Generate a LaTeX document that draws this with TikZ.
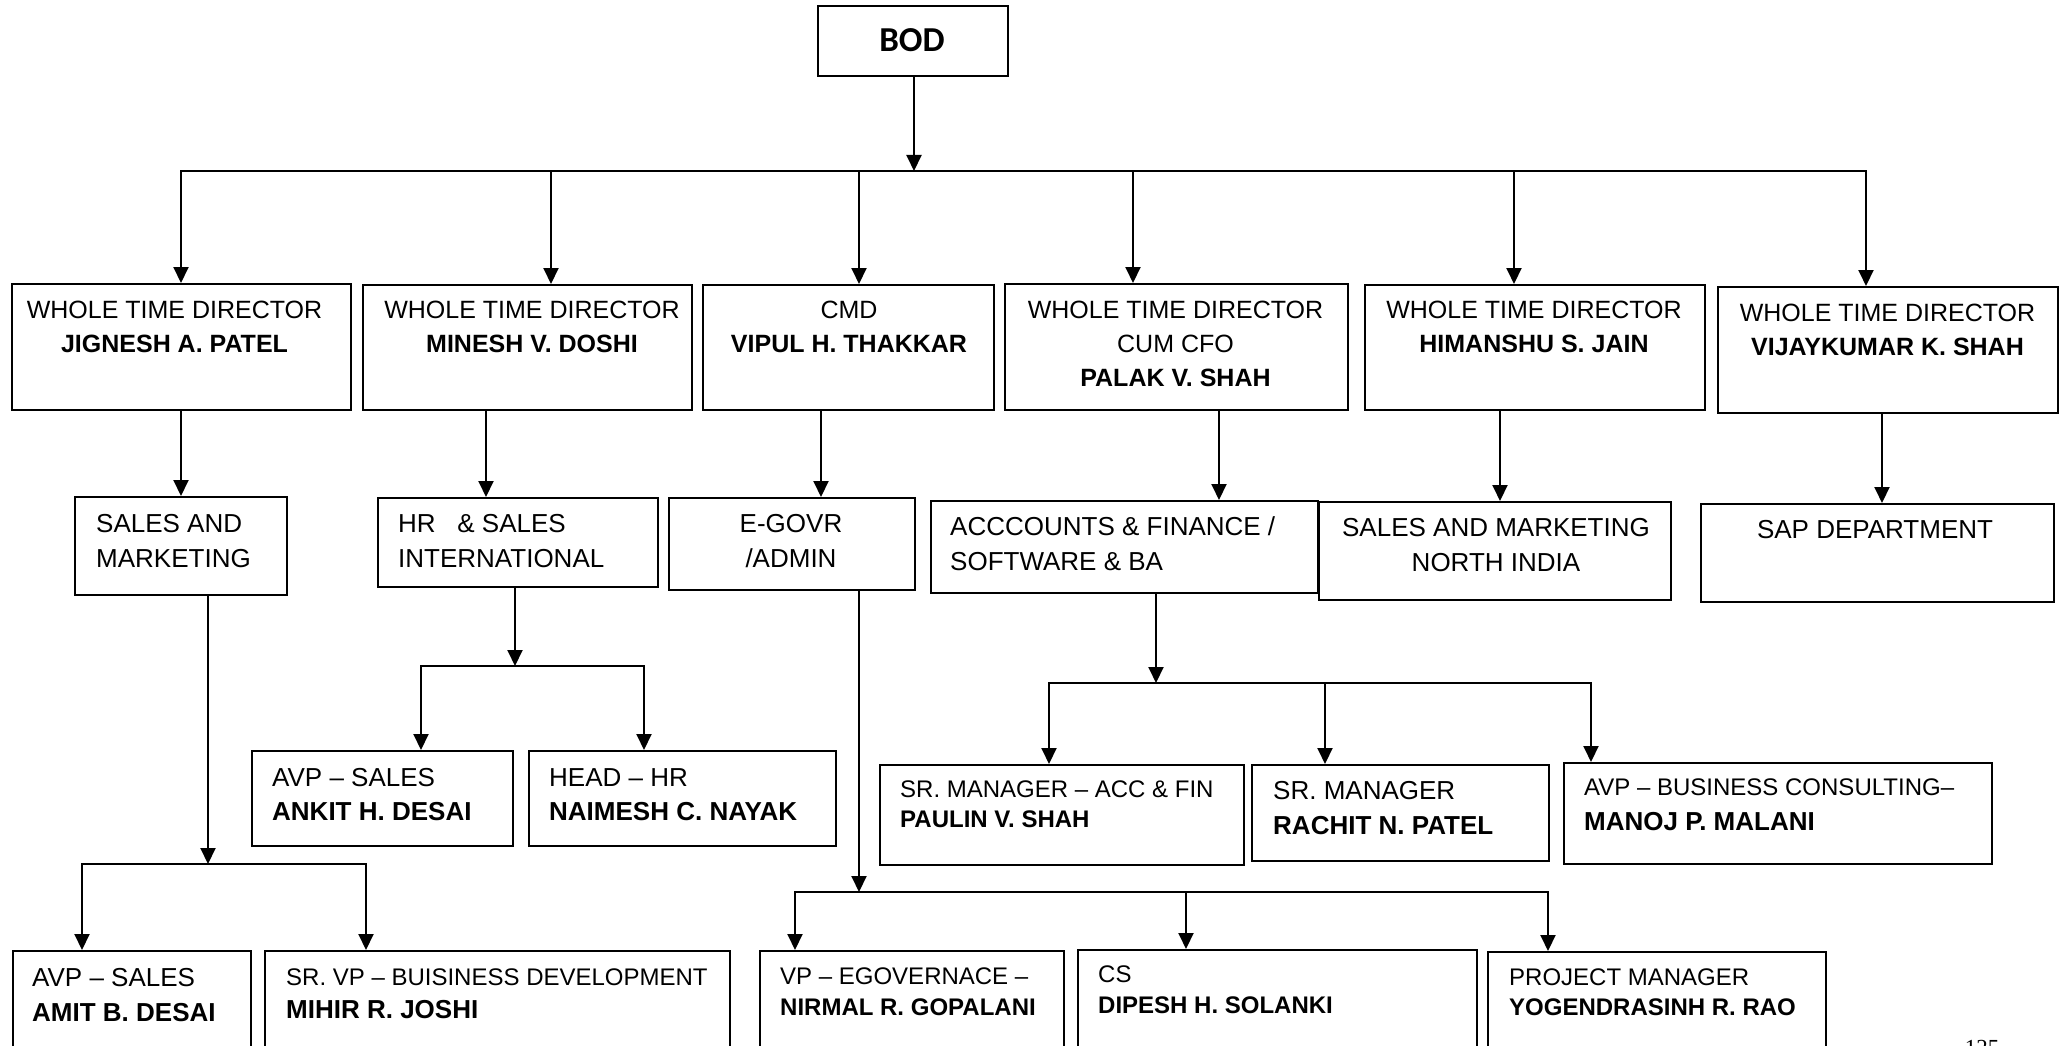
\documentclass[tikz,border=0pt]{standalone}
\usepackage{fontspec}
\setmainfont{Liberation Sans}
\newfontfamily\bodfont{Carlito}
\newfontfamily\pgnfont{Liberation Serif}
\usetikzlibrary{arrows.meta}

\begin{document}
\begin{tikzpicture}[x=1pt,y=-1pt,
  box/.style={draw, line width=2pt, anchor=north west, inner sep=0pt},
  ln/.style={line width=2pt, line cap=rect},
  arr/.style={line width=2pt, -{Triangle[length=16pt,width=15pt]}},
  tc/.style={inner sep=0pt, anchor=base},
  tl/.style={inner sep=0pt, anchor=base west},
  r24/.style={font=\fontsize{24pt}{28pt}\selectfont},
  b24/.style={font=\fontsize{24pt}{28pt}\selectfont\bfseries},
  r25/.style={font=\fontsize{25pt}{30pt}\selectfont},
  b25/.style={font=\fontsize{25pt}{30pt}\selectfont\bfseries},
  r26/.style={font=\fontsize{26pt}{31pt}\selectfont},
  b26/.style={font=\fontsize{26pt}{31pt}\selectfont\bfseries}
]
\fill[white] (0,0) rectangle (2065,1046);
\useasboundingbox (0,0) rectangle (2065,1046);

% ---------- boxes ----------
\node[box, minimum width=190pt, minimum height=70pt] (bod) at (817,5) {};
\node[box, minimum width=339pt, minimum height=126pt] (b1) at (11,283) {};
\node[box, minimum width=329pt, minimum height=125pt] (b2) at (362,284) {};
\node[box, minimum width=291pt, minimum height=125pt] (b3) at (702,284) {};
\node[box, minimum width=343pt, minimum height=126pt] (b4) at (1004,283) {};
\node[box, minimum width=340pt, minimum height=125pt] (b5) at (1364,284) {};
\node[box, minimum width=340pt, minimum height=126pt] (b6) at (1717,286) {};

\node[box, minimum width=212pt, minimum height=98pt] (s1) at (74,496) {};
\node[box, minimum width=280pt, minimum height=89pt] (s2) at (377,497) {};
\node[box, minimum width=246pt, minimum height=92pt] (s3) at (668,497) {};
\node[box, minimum width=387pt, minimum height=92pt] (s4) at (930,500) {};
\node[box, minimum width=352pt, minimum height=98pt] (s5) at (1318,501) {};
\node[box, minimum width=353pt, minimum height=98pt] (s6) at (1700,503) {};

\node[box, minimum width=261pt, minimum height=95pt] (c1) at (251,750) {};
\node[box, minimum width=307pt, minimum height=95pt] (c2) at (528,750) {};
\node[box, minimum width=364pt, minimum height=100pt] (c3) at (879,764) {};
\node[box, minimum width=297pt, minimum height=96pt] (c4) at (1251,764) {};
\node[box, minimum width=428pt, minimum height=101pt] (c5) at (1563,762) {};

\node[box, minimum width=238pt, minimum height=120pt] (d1) at (12,950) {};
\node[box, minimum width=465pt, minimum height=120pt] (d2) at (264,950) {};
\node[box, minimum width=304pt, minimum height=120pt] (d3) at (759,950) {};
\node[box, minimum width=399pt, minimum height=121pt] (d4) at (1077,949) {};
\node[box, minimum width=338pt, minimum height=119pt] (d5) at (1487,951) {};

% ---------- texts ----------
\node[tc, font=\fontsize{35pt}{40pt}\selectfont\bodfont\bfseries] (tbod) at (912,52) {BOD};

\node[tc, r25] (t1a) at (174.5,318) {WHOLE TIME DIRECTOR};
\node[tc, b25] (t1b) at (174.5,352) {JIGNESH A. PATEL};
\node[tc, r25] (t2a) at (532,318) {WHOLE TIME DIRECTOR};
\node[tc, b25] (t2b) at (532,352) {MINESH V. DOSHI};
\node[tc, r25] (t3a) at (849,318) {CMD};
\node[tc, b25] (t3b) at (849,352) {VIPUL H. THAKKAR};
\node[tc, r25] (t4a) at (1175.5,318) {WHOLE TIME DIRECTOR};
\node[tc, r25] (t4b) at (1175.5,352) {CUM CFO};
\node[tc, b25] (t4c) at (1175.5,386) {PALAK V. SHAH};
\node[tc, r25] (t5a) at (1534,318) {WHOLE TIME DIRECTOR};
\node[tc, b25] (t5b) at (1534,352) {HIMANSHU S. JAIN};
\node[tc, r25] (t6a) at (1887.5,321) {WHOLE TIME DIRECTOR};
\node[tc, b25] (t6b) at (1887.5,355) {VIJAYKUMAR K. SHAH};

\node[tl, r26] (u1a) at (96,532) {SALES AND};
\node[tl, r26] (u1b) at (96,567) {MARKETING};
\node[tl, r26] (u2a) at (398,532) {HR\ \ \ \& SALES};
\node[tl, r26] (u2b) at (398,567) {INTERNATIONAL};
\node[tc, r26] (u3a) at (791,532) {E-GOVR};
\node[tc, r26] (u3b) at (791,567) {/ADMIN};
\node[tl, r26] (u4a) at (950,535) {ACCCOUNTS \& FINANCE /};
\node[tl, r26] (u4b) at (950,570) {SOFTWARE \& BA};
\node[tc, r26] (u5a) at (1496,536) {SALES AND MARKETING};
\node[tc, r26] (u5b) at (1496,571) {NORTH INDIA};
\node[tc, r26] (u6a) at (1875,538) {SAP DEPARTMENT};

\node[tl, r26] (v1a) at (272,786) {AVP – SALES};
\node[tl, b26] (v1b) at (272,820) {ANKIT H. DESAI};
\node[tl, r26] (v2a) at (549,786) {HEAD – HR};
\node[tl, b26] (v2b) at (549,820) {NAIMESH C. NAYAK};
\node[tl, r24] (v3a) at (900,797) {SR. MANAGER – ACC \& FIN};
\node[tl, b24] (v3b) at (900,827) {PAULIN V. SHAH};
\node[tl, r26] (v4a) at (1273,799) {SR. MANAGER};
\node[tl, b26] (v4b) at (1273,834) {RACHIT N. PATEL};
\node[tl, r24] (v5a) at (1584,795) {AVP – BUSINESS CONSULTING–};
\node[tl, b26] (v5b) at (1584,830) {MANOJ P. MALANI};

\node[tl, r26] (w1a) at (32,986) {AVP – SALES};
\node[tl, b26] (w1b) at (32,1021) {AMIT B. DESAI};
\node[tl, r24] (w2a) at (286,985) {SR. VP – BUISINESS DEVELOPMENT};
\node[tl, b26] (w2b) at (286,1018) {MIHIR R. JOSHI};
\node[tl, r24] (w3a) at (780,984) {VP – EGOVERNACE –};
\node[tl, b24] (w3b) at (780,1015) {NIRMAL R. GOPALANI};
\node[tl, r24] (w4a) at (1098,982) {CS};
\node[tl, b24] (w4b) at (1098,1013) {DIPESH H. SOLANKI};
\node[tl, r24] (w5a) at (1509,985) {PROJECT MANAGER};
\node[tl, b24] (w5b) at (1509,1015) {YOGENDRASINH R. RAO};

\node[tc, font=\fontsize{23pt}{27pt}\selectfont\pgnfont] (pgno) at (1982,1055) {125};

% ---------- connectors ----------
% top bus
\coordinate (j0) at (914,171);
\coordinate (p1) at (181,171);
\coordinate (p2) at (551,171);
\coordinate (p3) at (859,171);
\coordinate (p4) at (1133,171);
\coordinate (p5) at (1514,171);
\coordinate (p6) at (1866,171);
\draw[arr] (bod.south -| j0) -- (j0);
\draw[ln] (p1) -- (p6);
\draw[arr] (p1) -- (p1 |- b1.north);
\draw[arr] (p2) -- (p2 |- b2.north);
\draw[arr] (p3) -- (p3 |- b3.north);
\draw[arr] (p4) -- (p4 |- b4.north);
\draw[arr] (p5) -- (p5 |- b5.north);
\draw[arr] (p6) -- (p6 |- b6.north);

% director -> department
\coordinate (k1) at (181,0);
\coordinate (k2) at (486,0);
\coordinate (k3) at (821,0);
\coordinate (k4) at (1219,0);
\coordinate (k5) at (1500,0);
\coordinate (k6) at (1882,0);
\draw[arr] (b1.south -| k1) -- (s1.north -| k1);
\draw[arr] (b2.south -| k2) -- (s2.north -| k2);
\draw[arr] (b3.south -| k3) -- (s3.north -| k3);
\draw[arr] (b4.south -| k4) -- (s4.north -| k4);
\draw[arr] (b5.south -| k5) -- (s5.north -| k5);
\draw[arr] (b6.south -| k6) -- (s6.north -| k6);

% sales and marketing -> Amit, Mihir
\coordinate (q1) at (208,864);
\coordinate (q1L) at (82,864);
\coordinate (q1R) at (366,864);
\draw[arr] (s1.south -| q1) -- (q1);
\draw[ln] (q1L) -- (q1R);
\draw[arr] (q1L) -- (d1.north -| q1L);
\draw[arr] (q1R) -- (d2.north -| q1R);

% HR -> Ankit, Naimesh
\coordinate (q2) at (515,666);
\coordinate (q2L) at (421,666);
\coordinate (q2R) at (644,666);
\draw[arr] (s2.south -| q2) -- (q2);
\draw[ln] (q2L) -- (q2R);
\draw[arr] (q2L) -- (c1.north -| q2L);
\draw[arr] (q2R) -- (c2.north -| q2R);

% E-GOVR -> Nirmal, Dipesh, Project
\coordinate (q3) at (859,892);
\coordinate (q3L) at (795,892);
\coordinate (q3M) at (1186,892);
\coordinate (q3R) at (1548,892);
\draw[arr] (s3.south -| q3) -- (q3);
\draw[ln] (q3L) -- (q3R);
\draw[arr] (q3L) -- (d3.north -| q3L);
\draw[arr] (q3M) -- (d4.north -| q3M);
\draw[arr] (q3R) -- (d5.north -| q3R);

% Accounts -> Paulin, Rachit, Manoj
\coordinate (q4) at (1156,683);
\coordinate (q4L) at (1049,683);
\coordinate (q4M) at (1325,683);
\coordinate (q4R) at (1591,683);
\draw[arr] (s4.south -| q4) -- (q4);
\draw[ln] (q4L) -- (q4R);
\draw[arr] (q4L) -- (c3.north -| q4L);
\draw[arr] (q4M) -- (c4.north -| q4M);
\draw[arr] (q4R) -- (c5.north -| q4R);
\end{tikzpicture}
\end{document}
